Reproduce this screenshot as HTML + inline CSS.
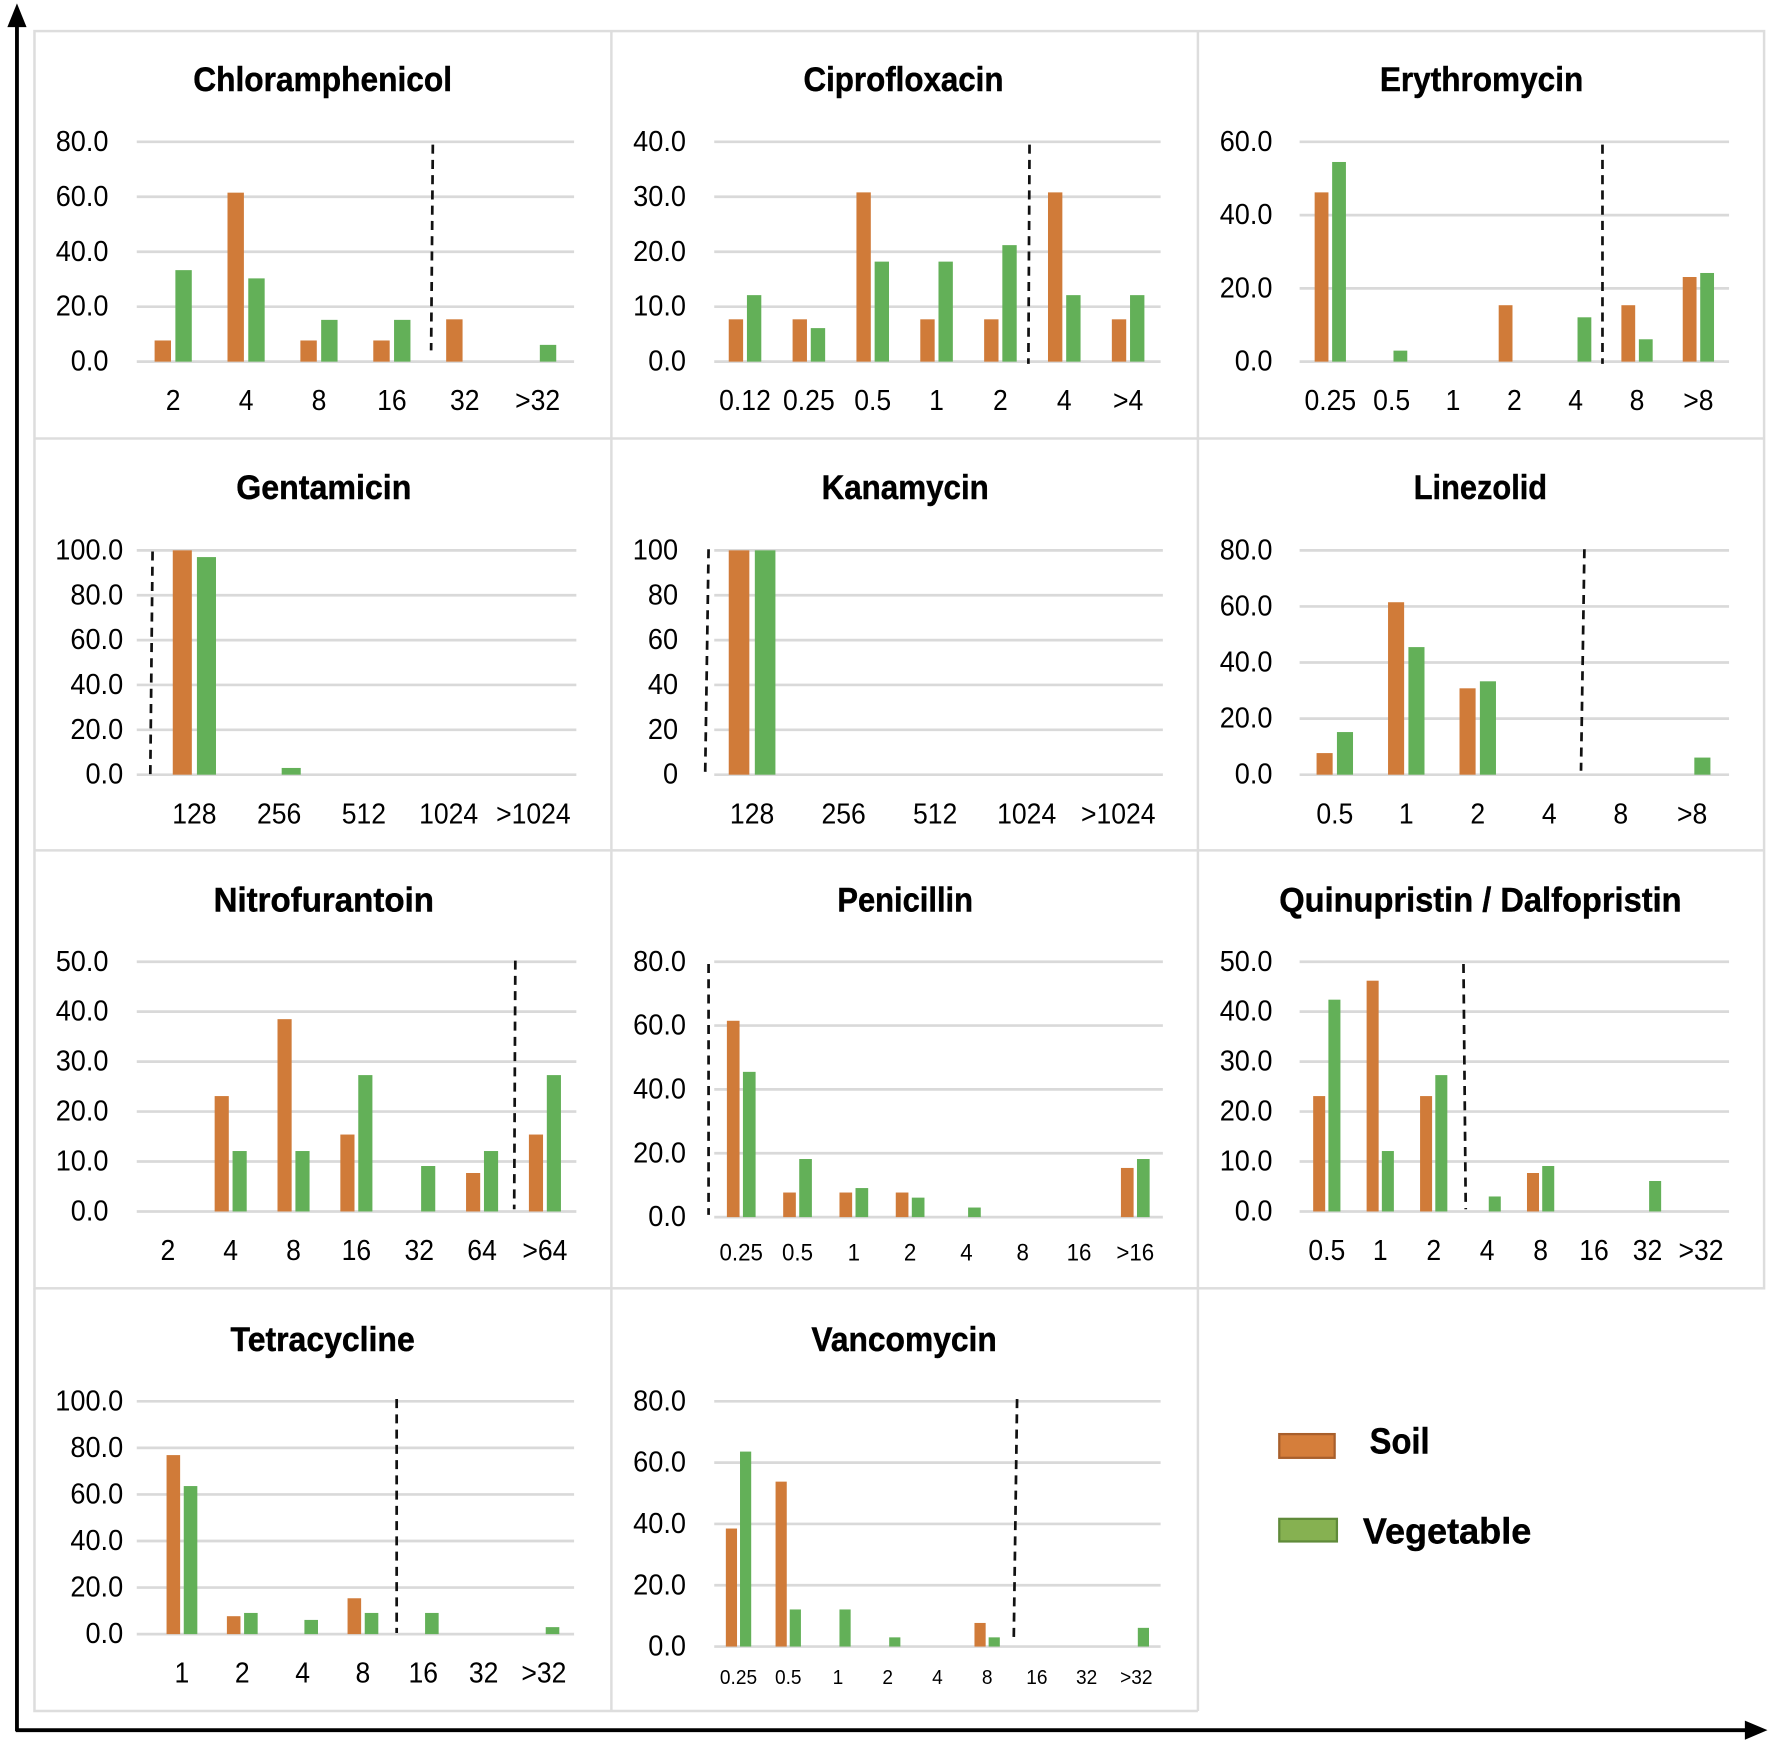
<!DOCTYPE html>
<html lang="en">
<head>
<meta charset="utf-8">
<title>MIC distribution by antibiotic</title>
<style>
html,body{margin:0;padding:0;background:#fff;}
svg{display:block;}
text{font-family:"Liberation Sans",sans-serif;fill:#000;}
</style>
</head>
<body>
<svg id="figure" xmlns="http://www.w3.org/2000/svg" width="1772" height="1746" viewBox="0 0 1568 1545">
  <rect x="0" y="0" width="1568" height="1545" fill="#ffffff"/>
  <g stroke="#dddddd" stroke-width="2.2" fill="none">
    <rect x="30.5" y="27.5" width="1530.5" height="1112.5"/>
    <path d="M30.5 388H1561M30.5 752.5H1561M541 27.5V1514M1060 27.5V1514M30.5 1140V1514H1060"/>
  </g>
  <g id="panels"></g>
  <g>
    <line x1="15" y1="1532" x2="15" y2="20" stroke="#000" stroke-width="3.4"/>
    <polygon points="15,3 6.5,24 23.5,24" fill="#000"/>
    <line x1="14" y1="1531" x2="1548" y2="1531" stroke="#000" stroke-width="3.4"/>
    <polygon points="1564,1531 1544,1522.5 1544,1539.5" fill="#000"/>
  </g>
  <g>
    <g>
      <rect x="1132" y="1269" width="49" height="21" fill="#d57e3b" stroke="#a85f2c" stroke-width="2"/>
      <text id="legend-soil" x="1238.5" y="1286" font-size="32" font-weight="700" text-anchor="middle" stroke="#000" stroke-width="0.4">Soil</text>
    </g>
    <g>
      <rect x="1132" y="1344" width="51" height="20" fill="#86b151" stroke="#5f8a3a" stroke-width="2"/>
      <text id="legend-vegetable" x="1280.5" y="1366" font-size="32" font-weight="700" text-anchor="middle" stroke="#000" stroke-width="0.4">Vegetable</text>
    </g>
  </g>
</svg>
<script>
// ---------- chart data (percent of isolates) ----------
const chloramphenicolCategories = ["2","4","8","16","32",">32"];
const chloramphenicolSoil = [7.7,61.5,7.7,7.7,15.4,0];
const chloramphenicolVegetable = [33.3,30.3,15.2,15.2,0,6.1];
const chloramphenicolTicks = ["0.0","20.0","40.0","60.0","80.0"];

const ciprofloxacinCategories = ["0.12","0.25","0.5","1","2","4",">4"];
const ciprofloxacinSoil = [7.7,7.7,30.8,7.7,7.7,30.8,7.7];
const ciprofloxacinVegetable = [12.1,6.1,18.2,18.2,21.2,12.1,12.1];
const ciprofloxacinTicks = ["0.0","10.0","20.0","30.0","40.0"];

const erythromycinCategories = ["0.25","0.5","1","2","4","8",">8"];
const erythromycinSoil = [46.2,0,0,15.4,0,15.4,23.1];
const erythromycinVegetable = [54.5,3,0,0,12.1,6.1,24.2];
const erythromycinTicks = ["0.0","20.0","40.0","60.0"];

const gentamicinCategories = ["128","256","512","1024",">1024"];
const gentamicinSoil = [100,0,0,0,0];
const gentamicinVegetable = [97,3,0,0,0];
const gentamicinTicks = ["0.0","20.0","40.0","60.0","80.0","100.0"];

const kanamycinCategories = ["128","256","512","1024",">1024"];
const kanamycinSoil = [100,0,0,0,0];
const kanamycinVegetable = [100,0,0,0,0];
const kanamycinTicks = ["0","20","40","60","80","100"];

const linezolidCategories = ["0.5","1","2","4","8",">8"];
const linezolidSoil = [7.7,61.5,30.8,0,0,0];
const linezolidVegetable = [15.2,45.5,33.3,0,0,6.1];
const linezolidTicks = ["0.0","20.0","40.0","60.0","80.0"];

const nitrofurantoinCategories = ["2","4","8","16","32","64",">64"];
const nitrofurantoinSoil = [0,23.1,38.5,15.4,0,7.7,15.4];
const nitrofurantoinVegetable = [0,12.1,12.1,27.3,9.1,12.1,27.3];
const nitrofurantoinTicks = ["0.0","10.0","20.0","30.0","40.0","50.0"];

const penicillinCategories = ["0.25","0.5","1","2","4","8","16",">16"];
const penicillinSoil = [61.5,7.7,7.7,7.7,0,0,0,15.4];
const penicillinVegetable = [45.5,18.2,9.1,6.1,3,0,0,18.2];
const penicillinTicks = ["0.0","20.0","40.0","60.0","80.0"];

const quinupristinCategories = ["0.5","1","2","4","8","16","32",">32"];
const quinupristinSoil = [23.1,46.2,23.1,0,7.7,0,0,0];
const quinupristinVegetable = [42.4,12.1,27.3,3,9.1,0,6.1,0];
const quinupristinTicks = ["0.0","10.0","20.0","30.0","40.0","50.0"];

const tetracyclineCategories = ["1","2","4","8","16","32",">32"];
const tetracyclineSoil = [76.9,7.7,0,15.4,0,0,0];
const tetracyclineVegetable = [63.6,9.1,6.1,9.1,9.1,0,3];
const tetracyclineTicks = ["0.0","20.0","40.0","60.0","80.0","100.0"];

const vancomycinCategories = ["0.25","0.5","1","2","4","8","16","32",">32"];
const vancomycinSoil = [38.5,53.8,0,0,0,7.7,0,0,0];
const vancomycinVegetable = [63.6,12.1,12.1,3,0,3,0,0,6.1];
const vancomycinTicks = ["0.0","20.0","40.0","60.0","80.0"];

// ---------- panel layout ----------
const panels = [
 {key:"chloramphenicol",title:"Chloramphenicol",cats:chloramphenicolCategories,soil:chloramphenicolSoil,veg:chloramphenicolVegetable,ticks:chloramphenicolTicks,
  titleX:285.5,titleY:70,titleW:229,left:121,right:508,top:125.5,base:320,bandStart:121,bandEnd:508,tickRight:96,catY:354,catSize:25,dash:[383,128,381.5,310]},
 {key:"ciprofloxacin",title:"Ciprofloxacin",cats:ciprofloxacinCategories,soil:ciprofloxacinSoil,veg:ciprofloxacinVegetable,ticks:ciprofloxacinTicks,
  titleX:799.5,titleY:70,titleW:177,left:632,right:1027,top:125.5,base:320,bandStart:631,bandEnd:1026.5,tickRight:607,catY:354,catSize:25,dash:[911,128,910,322]},
 {key:"erythromycin",title:"Erythromycin",cats:erythromycinCategories,soil:erythromycinSoil,veg:erythromycinVegetable,ticks:erythromycinTicks,
  titleX:1311,titleY:70,titleW:180,left:1150,right:1530,top:125.5,base:320,bandStart:1150,bandEnd:1530,tickRight:1126,catY:354,catSize:25,dash:[1418,128,1418,322]},
 {key:"gentamicin",title:"Gentamicin",cats:gentamicinCategories,soil:gentamicinSoil,veg:gentamicinVegetable,ticks:gentamicinTicks,
  titleX:286.5,titleY:431,titleW:155,left:121,right:510,top:487,base:685.5,bandStart:134.5,bandEnd:509.5,tickRight:109,catY:720,catSize:25,dash:[135,488,133,685]},
 {key:"kanamycin",title:"Kanamycin",cats:kanamycinCategories,soil:kanamycinSoil,veg:kanamycinVegetable,ticks:kanamycinTicks,
  titleX:801,titleY:431,titleW:148,left:632,right:1029,top:487,base:685.5,bandStart:625,bandEnd:1030,tickRight:600,catY:720,catSize:25,dash:[627,486,624,685]},
 {key:"linezolid",title:"Linezolid",cats:linezolidCategories,soil:linezolidSoil,veg:linezolidVegetable,ticks:linezolidTicks,
  titleX:1310,titleY:431,titleW:118,left:1150,right:1530,top:487,base:685.5,bandStart:1149.5,bandEnd:1529,tickRight:1126,catY:720,catSize:25,dash:[1402,486,1399,682]},
 {key:"nitrofurantoin",title:"Nitrofurantoin",cats:nitrofurantoinCategories,soil:nitrofurantoinSoil,veg:nitrofurantoinVegetable,ticks:nitrofurantoinTicks,
  titleX:286.5,titleY:796,titleW:195,left:121,right:510,top:851,base:1072,bandStart:120.7,bandEnd:510,tickRight:96,catY:1106,catSize:25,dash:[456,850,455,1070]},
 {key:"penicillin",title:"Penicillin",cats:penicillinCategories,soil:penicillinSoil,veg:penicillinVegetable,ticks:penicillinTicks,
  titleX:801,titleY:796,titleW:120,left:632,right:1029,top:851,base:1077,bandStart:631,bandEnd:1029.5,tickRight:607,catY:1108,catSize:21,dash:[627,853,627,1075]},
 {key:"quinupristin-dalfopristin",title:"Quinupristin / Dalfopristin",cats:quinupristinCategories,soil:quinupristinSoil,veg:quinupristinVegetable,ticks:quinupristinTicks,
  titleX:1310,titleY:796,titleW:356,left:1150,right:1530,top:851,base:1072,bandStart:1150.4,bandEnd:1528.8,tickRight:1126,catY:1106,catSize:25,dash:[1295,853,1297,1070]},
 {key:"tetracycline",title:"Tetracycline",cats:tetracyclineCategories,soil:tetracyclineSoil,veg:tetracyclineVegetable,ticks:tetracyclineTicks,
  titleX:285.5,titleY:1185,titleW:163,left:121,right:508,top:1240,base:1446,bandStart:134.3,bandEnd:508,tickRight:109,catY:1480,catSize:25,dash:[351,1238,351,1445]},
 {key:"vancomycin",title:"Vancomycin",cats:vancomycinCategories,soil:vancomycinSoil,veg:vancomycinVegetable,ticks:vancomycinTicks,
  titleX:800,titleY:1185,titleW:164,left:632,right:1027,top:1240,base:1457,bandStart:631.5,bandEnd:1027.5,tickRight:607,catY:1484,catSize:18,dash:[900,1238,897,1454]}
];

const SVG_NS = "http://www.w3.org/2000/svg";
const BAR_WIDTH = 0.225;
const BAR_GAP = 0.06;
const SOIL_COLOR = "#d07b39";
const VEG_COLOR = "#63b058";
const GRID_COLOR = "#d9d9d9";
const root = document.getElementById("panels");

function make(tag, parent){
  const el = document.createElementNS(SVG_NS, tag);
  parent.appendChild(el);
  return el;
}
function narrow(el, k){
  const w = el.getComputedTextLength();
  el.setAttribute("textLength", (w * k).toFixed(2));
  el.setAttribute("lengthAdjust", "spacingAndGlyphs");
}
function fit(el, width){
  el.setAttribute("textLength", width);
  el.setAttribute("lengthAdjust", "spacingAndGlyphs");
}
function yScale(p, value){
  const max = parseFloat(p.ticks[p.ticks.length - 1]);
  return p.base - (value / max) * (p.base - p.top);
}
function bandWidth(p){
  return (p.bandEnd - p.bandStart) / p.cats.length;
}
function xCenter(p, index){
  return p.bandStart + bandWidth(p) * (index + 0.5);
}

function drawPanel(p){
  const g = make("g", root);
  
  

  const title = make("text", g);
  
  
  title.setAttribute("x", p.titleX);
  title.setAttribute("y", p.titleY + 10.5);
  title.setAttribute("font-size", "30");
  title.setAttribute("font-weight", "700");
  title.setAttribute("text-anchor", "middle");
  title.setAttribute("stroke", "#000");
  title.setAttribute("stroke-width", "0.4");
  title.textContent = p.title;
  fit(title, p.titleW);

  p.ticks.forEach(function(label){
    const value = parseFloat(label);
    const y = yScale(p, value);

    const grid = make("line", g);
    
    
    grid.setAttribute("x1", p.left);
    grid.setAttribute("x2", p.right);
    grid.setAttribute("y1", y);
    grid.setAttribute("y2", y);
    grid.setAttribute("stroke", GRID_COLOR);
    grid.setAttribute("stroke-width", "2.4");

    const tick = make("text", g);
    
    
    tick.setAttribute("x", p.tickRight);
    tick.setAttribute("y", y + 8);
    tick.setAttribute("font-size", "25");
    tick.setAttribute("text-anchor", "end");
    tick.textContent = label;
    narrow(tick, 0.96);
  });

  const band = bandWidth(p);
  const bw = band * BAR_WIDTH;
  const gap = band * BAR_GAP;

  p.cats.forEach(function(cat, i){
    const cx = xCenter(p, i);

    const soilY = yScale(p, p.soil[i]);
    const soilBar = make("rect", g);
    
    
    soilBar.setAttribute("x", cx - gap / 2 - bw);
    soilBar.setAttribute("y", soilY);
    soilBar.setAttribute("width", bw);
    soilBar.setAttribute("height", p.base - soilY);
    soilBar.setAttribute("fill", SOIL_COLOR);

    const vegY = yScale(p, p.veg[i]);
    const vegBar = make("rect", g);
    
    
    vegBar.setAttribute("x", cx + gap / 2);
    vegBar.setAttribute("y", vegY);
    vegBar.setAttribute("width", bw);
    vegBar.setAttribute("height", p.base - vegY);
    vegBar.setAttribute("fill", VEG_COLOR);

    const label = make("text", g);
    
    
    label.setAttribute("x", cx);
    label.setAttribute("y", p.catY + p.catSize * 0.35);
    label.setAttribute("font-size", p.catSize);
    label.setAttribute("text-anchor", "middle");
    label.textContent = cat;
    narrow(label, 0.94);
  });

  const dash = make("line", g);
  
  
  dash.setAttribute("x1", p.dash[0]);
  dash.setAttribute("y1", p.dash[1]);
  dash.setAttribute("x2", p.dash[2]);
  dash.setAttribute("y2", p.dash[3]);
  dash.setAttribute("stroke", "#111");
  dash.setAttribute("stroke-width", "2.4");
  dash.setAttribute("stroke-dasharray", "8 5.5");
}

panels.forEach(drawPanel);
fit(document.getElementById("legend-soil"), 53);
fit(document.getElementById("legend-vegetable"), 149);
</script>
</body>
</html>
